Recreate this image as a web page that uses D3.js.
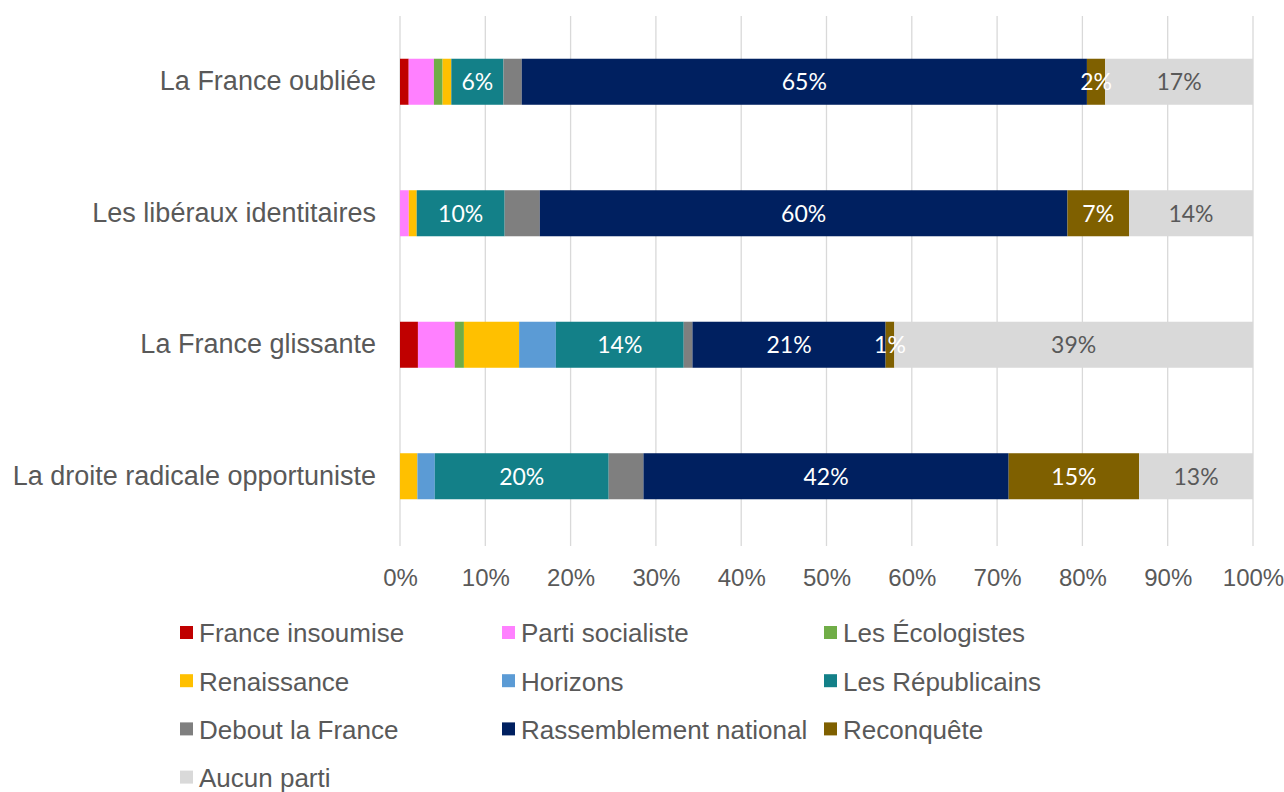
<!doctype html>
<meta charset="utf-8">
<style>
  body { margin: 0; background: #fff; }
  text { font-family: "Liberation Sans", Arial, sans-serif; }
</style>
<body>
<script src="https://cdn.jsdelivr.net/npm/d3@7"></script>
<script>
// categories, top to bottom
var categories = [
  "La France oubliée",
  "Les libéraux identitaires",
  "La France glissante",
  "La droite radicale opportuniste"
];

var parties = [
  "France insoumise", "Parti socialiste", "Les Écologistes",
  "Renaissance", "Horizons", "Les Républicains",
  "Debout la France", "Rassemblement national", "Reconquête",
  "Aucun parti"
];

var colors = [
  "#c00000", "#ff80ff", "#70ad47",
  "#ffc000", "#5b9bd5", "#138088",
  "#7f7f7f", "#002060", "#7f6000",
  "#d9d9d9"
];

// raw shares per category (same order as parties), bars are normalised to 100%
var franceOubliee   = [1.0, 2.9, 1.0, 1.0, 0.0, 6.0, 2.1, 65.0, 2.1, 17.0];
var liberauxIdent   = [0.0, 1.0, 0.0, 0.9, 0.0, 10.0, 4.0, 60.0, 7.0, 14.1];
var franceGlissante = [1.95, 4.0, 1.0, 6.0, 4.0, 13.9, 0.95, 21.0, 0.95, 39.0];
var droiteRadicale  = [0.0, 0.0, 0.0, 2.0, 2.0, 20.0, 4.0, 42.0, 15.0, 13.1];

var tickValues = [0, .1, .2, .3, .4, .5, .6, .7, .8, .9, 1];

// only these series get a value label
var labelled = ["Les Républicains", "Rassemblement national", "Reconquête", "Aucun parti"];

var series = [franceOubliee, liberauxIdent, franceGlissante, droiteRadicale];
var rows = categories.map(function(c, i){
  var r = { cat: c };
  parties.forEach(function(p, j){ r[p] = series[i][j]; });
  return r;
});

var W = 1284, H = 792;
var x0 = 400, x1 = 1253, yTop = 16, yBot = 542;

var svg = d3.select("body").append("svg").attr("width", W).attr("height", H);

var x = d3.scaleLinear().domain([0, 1]).range([x0, x1]);
var y = d3.scaleBand().domain(categories).range([yTop, yBot]).paddingInner(0.65).paddingOuter(0.325);
var color = d3.scaleOrdinal().domain(parties).range(colors);

// gridlines
svg.append("g").selectAll("line")
  .data(tickValues)
  .enter().append("line")
    .attr("x1", function(d){ return x(d); })
    .attr("x2", function(d){ return x(d); })
    .attr("y1", yTop)
    .attr("y2", yBot + 4)
    .attr("stroke", "#d9d9d9")
    .attr("stroke-width", 1.3);

// x axis labels
var xAxis = d3.axisBottom(x).tickValues(tickValues).tickSize(0).tickPadding(0)
  .tickFormat(function(d){ return Math.round(d * 100) + "%"; });
var gx = svg.append("g").attr("transform", "translate(0," + 570 + ")").call(xAxis);
gx.select(".domain").remove();
gx.selectAll("text")
  .attr("dy", "0.35em").attr("y", 8)
  .style("font-family", "'Liberation Sans Narrow', 'Liberation Sans', sans-serif")
  .style("font-size", "24px").attr("fill", "#595959");

// category labels
var yAxis = d3.axisLeft(y).tickSize(0).tickPadding(24);
var gy = svg.append("g").attr("transform", "translate(" + x0 + ",0)").call(yAxis);
gy.select(".domain").remove();
gy.selectAll("text")
  .style("font-size", "27px").style("font-family", "'Liberation Sans', sans-serif")
  .attr("fill", "#595959");

// stacked bars
var stack = d3.stack().keys(parties).offset(d3.stackOffsetExpand);
var layers = stack(rows);

var g = svg.append("g").selectAll("g")
  .data(layers)
  .enter().append("g")
    .attr("fill", function(d){ return color(d.key); });

g.selectAll("rect")
  .data(function(d){ return d; })
  .enter().append("rect")
    .attr("x", function(d){ return x(d[0]); })
    .attr("width", function(d){ return Math.max(0, x(d[1]) - x(d[0])); })
    .attr("y", function(d){ return y(d.data.cat); })
    .attr("height", y.bandwidth());

// value labels
layers.forEach(function(layer){
  if (labelled.indexOf(layer.key) < 0) return;
  svg.append("g").selectAll("text")
    .data(layer.filter(function(d){ return d.data[layer.key] > 0.5; }))
    .enter().append("text")
      .attr("x", function(d){ return (x(d[0]) + x(d[1])) / 2; })
      .attr("y", function(d){ return y(d.data.cat) + y.bandwidth() / 2; })
      .attr("dy", "0.36em")
      .attr("text-anchor", "middle")
      .style("font-family", "Lato, 'Open Sans', sans-serif")
      .style("font-size", "23px")
      .attr("fill", layer.key === "Aucun parti" ? "#595959" : "#ffffff")
      .text(function(d){ return Math.round(d.data[layer.key]) + "%"; });
});

// legend
var legend = svg.append("g");
var colX = [180, 502, 824], rowY0 = 633, rowStep = 48.2;
parties.forEach(function(p, i){
  var cx = colX[i % 3], cy = rowY0 + Math.floor(i / 3) * rowStep;
  legend.append("rect")
    .attr("x", cx).attr("y", cy - 7).attr("width", 13).attr("height", 13)
    .attr("fill", color(p));
  legend.append("text")
    .attr("x", cx + 19).attr("y", cy).attr("dy", "0.36em")
    .style("font-size", "26px").attr("fill", "#595959")
    .text(p);
});
</script>
</body>
